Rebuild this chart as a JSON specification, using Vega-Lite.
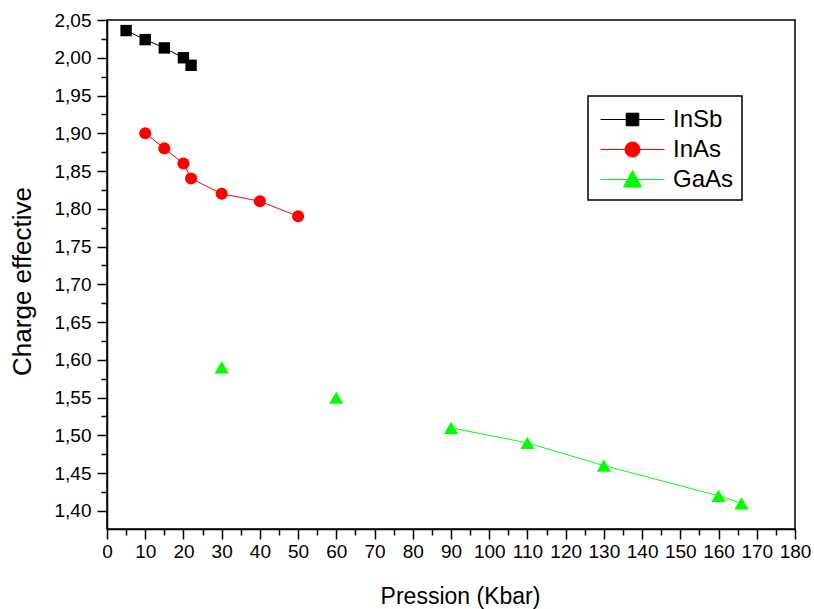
{
  "$schema": "https://vega.github.io/schema/vega-lite/v6.json",
  "width": 688,
  "height": 509,
  "autosize": {"type": "none"},
  "padding": {"left": 107, "top": 20, "right": 19, "bottom": 80},
  "config": {
    "locale": {"number": {"decimal": ",", "thousands": ".", "grouping": [3], "currency": ["", " €"]}},
    "view": {"stroke": "#000000", "strokeWidth": 1.5},
    "font": "Liberation Sans",
    "axis": {
      "grid": false,
      "domainColor": "#000000",
      "domainWidth": 1.5,
      "tickColor": "#000000",
      "tickWidth": 1.5,
      "labelColor": "#000000",
      "labelFont": "Liberation Sans",
      "labelFontSize": 19,
      "labelOverlap": false,
      "labelFlush": false,
      "titleColor": "#000000",
      "titleFont": "Liberation Sans",
      "titleFontWeight": "normal"
    }
  },
  "data": {
    "values": [
      {"Serie": "InSb", "P": 5, "Q": 2.036},
      {"Serie": "InSb", "P": 10, "Q": 2.024},
      {"Serie": "InSb", "P": 15, "Q": 2.013},
      {"Serie": "InSb", "P": 20, "Q": 2.0},
      {"Serie": "InSb", "P": 22, "Q": 1.99},
      {"Serie": "InAs", "P": 10, "Q": 1.9},
      {"Serie": "InAs", "P": 15, "Q": 1.88},
      {"Serie": "InAs", "P": 20, "Q": 1.86},
      {"Serie": "InAs", "P": 22, "Q": 1.84},
      {"Serie": "InAs", "P": 30, "Q": 1.82},
      {"Serie": "InAs", "P": 40, "Q": 1.81},
      {"Serie": "InAs", "P": 50, "Q": 1.79},
      {"Serie": "GaAs", "P": 30, "Q": 1.59},
      {"Serie": "GaAs", "P": 60, "Q": 1.55},
      {"Serie": "GaAs", "P": 90, "Q": 1.51},
      {"Serie": "GaAs", "P": 110, "Q": 1.49},
      {"Serie": "GaAs", "P": 130, "Q": 1.46},
      {"Serie": "GaAs", "P": 160, "Q": 1.42},
      {"Serie": "GaAs", "P": 166, "Q": 1.41}
    ]
  },
  "resolve": {"axis": {"x": "independent", "y": "independent"}},
  "layer": [
    {
      "transform": [{"filter": "datum.Serie != 'GaAs' || datum.P >= 90"}],
      "mark": {"type": "line", "strokeWidth": 1},
      "encoding": {
        "x": {
          "field": "P", "type": "quantitative",
          "scale": {"domain": [0, 180], "nice": false, "zero": false},
          "axis": {
            "orient": "bottom",
            "values": [0, 10, 20, 30, 40, 50, 60, 70, 80, 90, 100, 110, 120, 130, 140, 150, 160, 170, 180],
            "tickSize": 10, "labelPadding": 3, "title": "Pression (Kbar)", "titleFontSize": 23, "titlePadding": 24, "titleX": 353
          }
        },
        "y": {
          "field": "Q", "type": "quantitative",
          "scale": {"domain": [1.376, 2.05], "nice": false, "zero": false},
          "axis": {
            "orient": "left",
            "values": [1.4, 1.45, 1.5, 1.55, 1.6, 1.65, 1.7, 1.75, 1.8, 1.85, 1.9, 1.95, 2.0, 2.05],
            "format": ".2f",
            "tickSize": 10, "labelPadding": 6, "title": "Charge effective", "titleFontSize": 26, "titlePadding": 19, "titleY": 261
          }
        },
        "color": {
          "field": "Serie", "type": "nominal",
          "scale": {"domain": ["InSb", "InAs", "GaAs"], "range": ["#000000", "#ff0000", "#00ff00"]},
          "legend": {
            "title": null,
            "orient": "none",
            "legendX": 481,
            "legendY": 76,
            "strokeColor": "#000000",
            "fillColor": "#ffffff",
            "padding": 8,
            "symbolSize": 900,
            "symbolOffset": 21,
            "symbolStrokeWidth": 1,
            "symbolOpacity": 1,
            "labelOffset": 25,
            "labelFontSize": 24,
            "labelFont": "Liberation Sans",
            "labelColor": "#000000",
            "rowPadding": 2,
            "encode": {
              "legend": {"update": {"strokeWidth": {"value": 1.5}}},
              "symbols": {
                "update": {
                  "shape": {"signal": "datum.value === 'InSb' ? 'M-2.13,0H2.13M-0.42,-0.42H0.42V0.42H-0.42Z' : datum.value === 'InAs' ? 'M-2.13,0H2.13M0.5,0A0.5,0.5,0,1,1,-0.5,0A0.5,0.5,0,1,1,0.5,0Z' : 'M-2.13,0H2.13M0,-0.6L0.6,0.5L-0.6,0.5Z'"},
                  "stroke": {"signal": "datum.value === 'InSb' ? '#000000' : datum.value === 'InAs' ? '#ff0000' : '#00ff00'"},
                  "fill": {"signal": "datum.value === 'InSb' ? '#000000' : datum.value === 'InAs' ? '#ff0000' : '#00ff00'"},
                  "strokeWidth": {"value": 1},
                  "opacity": {"value": 1}
                }
              }
            }
          }
        }
      }
    },
    {
      "transform": [{"filter": "datum.Serie == 'InSb'"}],
      "mark": {"type": "point", "shape": "square", "size": 130, "filled": true, "opacity": 1, "strokeWidth": 0, "color": "#000000"},
      "encoding": {
        "x": {
          "field": "P", "type": "quantitative",
          "axis": {
            "orient": "bottom",
            "values": [5, 15, 25, 35, 45, 55, 65, 75, 85, 95, 105, 115, 125, 135, 145, 155, 165, 175],
            "tickSize": 6, "labels": false, "domain": false, "title": null
          }
        },
        "y": {
          "field": "Q", "type": "quantitative",
          "axis": {
            "orient": "left",
            "values": [1.425, 1.475, 1.525, 1.575, 1.625, 1.675, 1.725, 1.775, 1.825, 1.875, 1.925, 1.975, 2.025],
            "tickSize": 6, "labels": false, "domain": false, "title": null
          }
        }
      }
    },
    {
      "transform": [{"filter": "datum.Serie == 'InAs'"}],
      "mark": {"type": "point", "shape": "circle", "size": 145, "filled": true, "opacity": 1, "strokeWidth": 0, "color": "#ff0000"},
      "encoding": {
        "x": {"field": "P", "type": "quantitative", "axis": null},
        "y": {"field": "Q", "type": "quantitative", "axis": null}
      }
    },
    {
      "transform": [{"filter": "datum.Serie == 'GaAs'"}],
      "mark": {"type": "point", "shape": "triangle-up", "size": 200, "filled": true, "opacity": 1, "strokeWidth": 0, "color": "#00ff00"},
      "encoding": {
        "x": {"field": "P", "type": "quantitative", "axis": null},
        "y": {"field": "Q", "type": "quantitative", "axis": null}
      }
    }
  ]
}
